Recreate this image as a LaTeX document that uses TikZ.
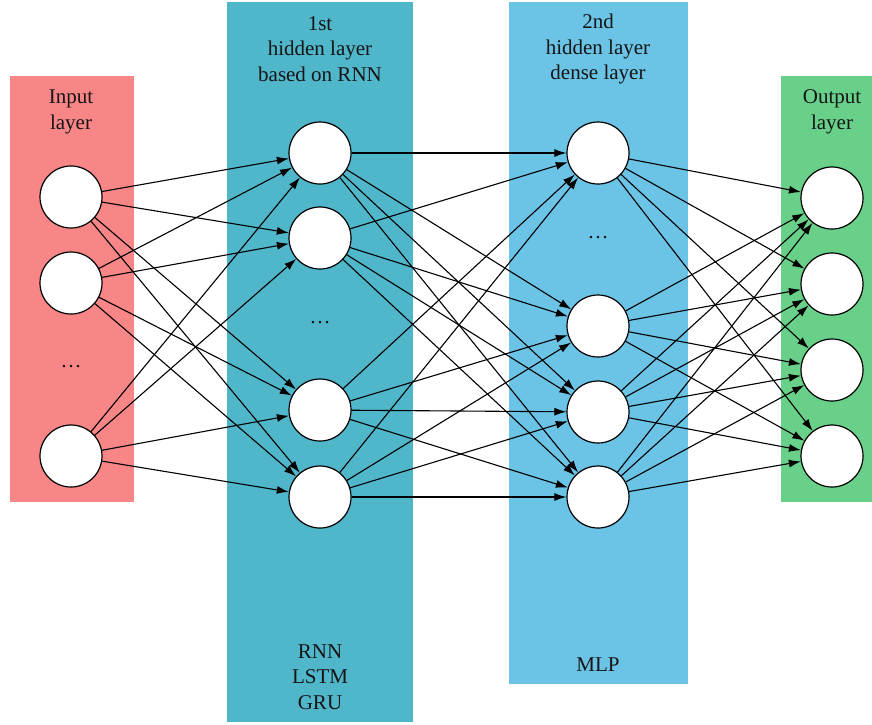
\documentclass[tikz,border=0pt]{standalone}
\usepackage{fontspec}
\setmainfont{Liberation Serif}
\usetikzlibrary{arrows.meta}
\definecolor{nnink}{HTML}{151515}
\definecolor{nnred}{HTML}{F88687}
\definecolor{nnteal}{HTML}{50B6CA}
\definecolor{nnsky}{HTML}{6BC3E5}
\definecolor{nngreen}{HTML}{68D089}
\tikzset{
  nn text/.style={font=\fontsize{21}{25.5}\selectfont, text=nnink},
  nn unit/.style={circle, draw=black, line width=1.2pt, fill=white,
    minimum size=62pt, inner sep=0pt},
  nn arrow/.style={-{Latex[length=12pt,width=8pt]}, line width=1.1pt, draw=black},
  nn label/.style={align=center, inner sep=0pt},
  nn dots/.style={inner sep=1pt}
}
\begin{document}
\begin{tikzpicture}[nn text, x=1pt, y=-1pt]
  \useasboundingbox (0,0) rectangle (872,724);
  % layer panels
  \fill[nnred] (10,76) rectangle (134,502);
  \fill[nnteal] (227,2) rectangle (413,722);
  \fill[nnsky] (509,2) rectangle (688,684);
  \fill[nngreen] (781,76) rectangle (872,502);
  \node[nn label] (inlab) at (71,112) {Input\\layer};
  \node[nn label] (hidlab) at (320,49) {1st\\hidden layer\\based on RNN};
  \node[nn label] (denlab) at (598,49) {2nd\\hidden layer\\dense layer};
  \node[nn label] (outlab) at (832,112) {Output\\layer};
  \node[nn label] (rnnlab) at (320,677) {RNN\\LSTM\\GRU};
  \node[nn label] (mlplab) at (598,665) {MLP};
  % input layer
  \node[nn unit] (i1) at (71,197) {};
  \node[nn unit] (i2) at (71,283) {};
  \node[nn dots] (idots) at (71,367) {\dots};
  \node[nn unit] (i3) at (71,456) {};
  % 1st hidden layer
  \node[nn unit] (a1) at (320,153) {};
  \node[nn unit] (a2) at (320,238) {};
  \node[nn dots] (adots) at (320,323) {\dots};
  \node[nn unit] (a3) at (320,410) {};
  \node[nn unit] (a4) at (320,497) {};
  % 2nd hidden layer
  \node[nn unit] (b1) at (598,153) {};
  \node[nn dots] (bdots) at (598,238) {\dots};
  \node[nn unit] (b2) at (598,326) {};
  \node[nn unit] (b3) at (598,412) {};
  \node[nn unit] (b4) at (598,497) {};
  % output layer
  \node[nn unit] (o1) at (832,198) {};
  \node[nn unit] (o2) at (832,284) {};
  \node[nn unit] (o3) at (832,370) {};
  \node[nn unit] (o4) at (832,456) {};
  % connections
  \foreach \s in {i1,i2,i3}
    \foreach \t in {a1,a2,a3,a4}
      \draw[nn arrow] (\s) -- (\t);
  \foreach \s in {a1,a2,a3,a4}
    \foreach \t in {b1,b2,b3,b4}
      \draw[nn arrow] (\s) -- (\t);
  \foreach \s in {b1,b2,b3,b4}
    \foreach \t in {o1,o2,o3,o4}
      \draw[nn arrow] (\s) -- (\t);
\end{tikzpicture}
\end{document}
